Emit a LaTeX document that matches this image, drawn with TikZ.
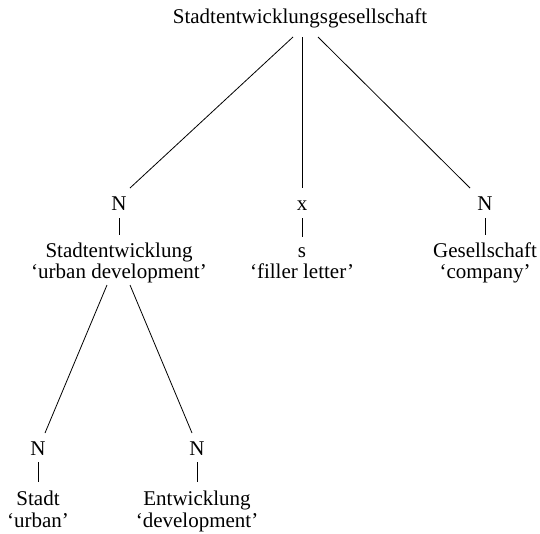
\documentclass[tikz,border=0pt]{standalone}
\usepackage{fontspec}
\setmainfont{Liberation Serif}
\begin{document}
\begin{tikzpicture}[x=1pt,y=-1pt,
  lbl/.style={inner sep=0pt, anchor=base, font=\fontsize{21pt}{26pt}\selectfont},
  edge/.style={draw=black, line width=0.8pt}]
\useasboundingbox (0,0) rectangle (540,533);
% labels
\node[lbl] (root) at (300,23) {Stadtentwicklungsgesellschaft};
\node[lbl] (n1) at (119,210) {N};
\node[lbl] (w1) at (119,257) {Stadtentwicklung};
\node[lbl] (g1) at (119,278) {‘urban development’};
\node[lbl] (n2) at (302,210) {x};
\node[lbl] (w2) at (302,257) {s};
\node[lbl] (g2) at (302,278) {‘filler letter’};
\node[lbl] (n3) at (485,210) {N};
\node[lbl] (w3) at (485,257) {Gesellschaft};
\node[lbl] (g3) at (485,278) {‘company’};
\node[lbl] (n4) at (38,455) {N};
\node[lbl] (w4) at (38,505) {Stadt};
\node[lbl] (g4) at (38,527) {‘urban’};
\node[lbl] (n5) at (197,455) {N};
\node[lbl] (w5) at (197,505) {Entwicklung};
\node[lbl] (g5) at (197,527) {‘development’};
% connector ends
\coordinate (r1) at (293,37);
\coordinate (r2) at (302,37);
\coordinate (r3) at (318,37);
\coordinate (e1) at (130,188);
\coordinate (e2) at (302,188);
\coordinate (e3) at (470,188);
\coordinate (a1) at (119,218);
\coordinate (b1) at (119,235);
\coordinate (a2) at (302,218);
\coordinate (b2) at (302,237);
\coordinate (a3) at (485,218);
\coordinate (b3) at (485,235);
\coordinate (c1) at (107,285);
\coordinate (c2) at (130,285);
\coordinate (d1) at (45,433);
\coordinate (d2) at (192,433);
\coordinate (a4) at (38,462);
\coordinate (b4) at (38,482);
\coordinate (a5) at (197,462);
\coordinate (b5) at (197,482);
% connectors
\draw[edge] (r1) -- (e1);
\draw[edge] (r2) -- (e2);
\draw[edge] (r3) -- (e3);
\draw[edge] (a1) -- (b1);
\draw[edge] (a2) -- (b2);
\draw[edge] (a3) -- (b3);
\draw[edge] (c1) -- (d1);
\draw[edge] (c2) -- (d2);
\draw[edge] (a4) -- (b4);
\draw[edge] (a5) -- (b5);
\end{tikzpicture}
\end{document}
